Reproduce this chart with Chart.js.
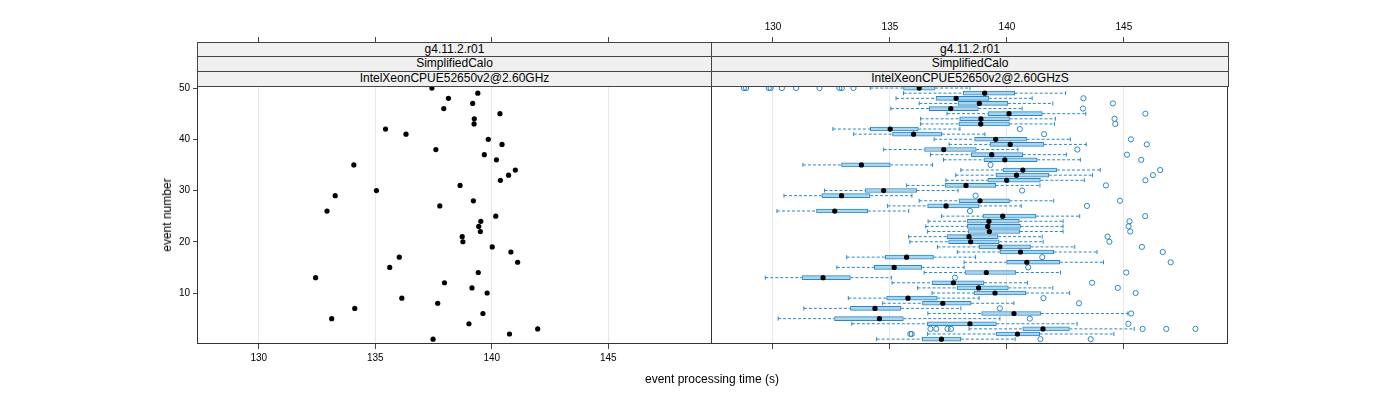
<!DOCTYPE html>
<html>
<head>
<meta charset="utf-8">
<script src="https://cdn.jsdelivr.net/npm/chart.js@4.4.1/dist/chart.umd.min.js"></script>
<style>
  body { margin: 0; background: #fff; }
  #wrap { position: relative; width: 1400px; height: 400px; font-family: 'Liberation Sans', Arial, sans-serif; color: #000; }
  canvas { position: absolute; top: 0; }
  .row { position: absolute; box-sizing: border-box; border: 1px solid #444; background: #f0f0f0;
         text-align: center; font-size: 12px; line-height: 13px; white-space: nowrap; }
  .title { position: absolute; font-size: 12px; white-space: nowrap; }
</style>
</head>
<body>
<div id="wrap">
  <canvas id="leftChart" width="562" height="400" style="left:150px;width:562px;height:400px"></canvas>
  <canvas id="rightChart" width="690" height="400" style="left:710px;width:690px;height:400px"></canvas>
  <div id="strips"></div>
  <div class="title" style="left:712px;top:372px;transform:translateX(-50%)">event processing time (s)</div>
  <div class="title" style="left:167px;top:215px;transform:translate(-50%,-50%) rotate(-90deg)">event number</div>
</div>
<script>
// valeurs
const EVENT = [1, 2, 3, 4, 5, 6, 7, 8, 9, 10, 11, 12, 13, 14, 15, 16, 17, 18, 19, 20,
  21, 22, 23, 24, 25, 26, 27, 28, 29, 30, 31, 32, 33, 34, 35, 36, 37, 38, 39, 40,
  41, 42, 43, 44, 45, 46, 47, 48, 49, 50];
const X_TICKS = [130, 135, 140, 145];
const Y_TICKS = [10, 20, 30, 40, 50];
const X_RANGE = [127.35, 149.45];
const Y_RANGE = [0.05, 50.4];

const STRIP_LEFT = ['g4.11.2.r01', 'SimplifiedCalo', 'IntelXeonCPUE52650v2@2.60GHz'];
const STRIP_RIGHT = ['g4.11.2.r01', 'SimplifiedCalo', 'IntelXeonCPUE52650v2@2.60GHzS'];

// panneau gauche : un temps par événement
const SCATTER_TIME = [137.48, 140.76, 141.97, 139.02, 133.13, 139.62, 134.12, 137.68, 136.14, 139.80,
  139.15, 137.97, 132.44, 139.42, 135.62, 141.11, 136.03, 140.82, 140.02, 138.76,
  138.73, 139.51, 139.44, 139.53, 140.17, 132.93, 137.77, 139.21, 133.28, 135.05,
  138.64, 140.37, 140.72, 141.01, 134.08, 140.20, 139.68, 137.60, 140.44, 139.85,
  136.32, 135.44, 139.24, 139.25, 140.35, 137.94, 139.18, 138.14, 139.40, 137.43];

// panneau droit : boîtes à moustaches
const WHISKER_LO = [134.43, 136.61, 138.38, 133.37, 130.22, 136.62, 131.32, 134.69, 133.22, 136.80,
  136.18, 135.09, 129.67, 136.46, 132.73, 138.17, 133.15, 137.88, 137.03, 135.85,
  135.80, 136.60, 136.53, 136.63, 137.20, 130.17, 134.90, 136.25, 130.47, 132.20,
  135.71, 137.39, 137.81, 138.03, 131.28, 137.29, 136.73, 134.73, 137.53, 136.89,
  133.45, 132.56, 136.31, 136.31, 137.44, 135.04, 136.25, 135.26, 135.58, 134.16];
const BOX_Q1 = [136.38, 139.55, 140.68, 136.60, 132.63, 138.92, 133.31, 136.39, 134.86, 138.59,
  137.88, 136.80, 131.24, 138.21, 134.33, 139.99, 134.80, 139.70, 138.81, 137.51,
  137.44, 138.34, 138.31, 138.31, 138.98, 131.86, 136.61, 137.95, 132.09, 133.95,
  137.37, 139.18, 139.53, 139.83, 132.93, 139.02, 138.48, 136.48, 139.28, 138.62,
  135.11, 134.16, 137.95, 137.98, 139.19, 136.68, 137.91, 136.97, 138.13, 135.58];
const BOX_MEDIAN = [137.20, 140.45, 141.54, 138.42, 134.55, 140.30, 134.36, 137.26, 135.77, 139.49,
  138.79, 137.71, 132.14, 139.12, 135.18, 140.85, 135.71, 140.58, 139.70, 138.45,
  138.38, 139.25, 139.18, 139.23, 139.82, 132.64, 137.40, 138.85, 132.93, 134.73,
  138.25, 139.99, 140.41, 140.68, 133.78, 139.91, 139.35, 137.30, 140.14, 139.52,
  136.01, 135.01, 138.88, 138.89, 140.09, 137.60, 138.82, 137.83, 139.05, 136.25];
const BOX_Q3 = [138.03, 141.40, 142.67, 139.55, 135.57, 141.45, 135.47, 138.47, 137.02, 140.81,
  140.06, 139.02, 133.31, 140.38, 136.36, 142.26, 136.86, 142.00, 141.01, 139.67,
  139.62, 140.55, 140.58, 140.53, 141.24, 134.05, 138.81, 140.11, 134.15, 136.14,
  139.52, 141.43, 141.79, 142.14, 135.01, 141.29, 140.68, 138.69, 141.58, 140.84,
  137.22, 136.21, 140.11, 140.11, 141.51, 138.78, 140.04, 139.23, 140.33, 136.93];
const WHISKER_HI = [140.35, 144.57, 145.44, 143.00, 139.70, 145.17, 138.03, 140.30, 138.81, 142.68,
  141.96, 140.88, 135.06, 142.29, 138.17, 144.13, 138.66, 143.85, 142.90, 141.55,
  141.51, 142.40, 142.40, 142.40, 143.11, 135.80, 140.61, 142.00, 135.94, 137.91,
  141.41, 143.31, 143.66, 143.99, 136.82, 143.14, 142.54, 140.47, 143.39, 142.71,
  139.06, 137.99, 142.03, 142.07, 143.37, 140.65, 141.96, 141.08, 142.51, 138.42];
const OUTLIERS = [
  [141.43, 143.58], [135.87, 135.93], [136.73, 136.98, 137.46, 137.61, 145.80, 146.81, 148.06],
  [145.19], [140.98], [145.31], [139.70], [143.08], [141.56], [145.50],
  [144.74], [143.64], [137.78], [145.10], [140.91], [147.00], [141.51], [146.66], [145.77], [144.38],
  [144.30], [145.27], [145.20], [145.24], [145.91], [138.42], [143.42], [144.83], [138.66], [140.65],
  [144.23], [145.92], [146.24], [146.55], [139.30], [145.74], [145.13], [143.01], [145.98], [145.30],
  [141.59], [140.55], [144.63], [144.60], [145.92], [143.25], [144.53], [143.27], [],
  [128.76, 128.85, 129.82, 129.90, 130.38, 130.99, 131.99, 132.84, 132.94, 133.44]
];

const INK = '#444';
const BLUE = '#2b87c5';
const BOX_FILL = '#a9d5ef';
const TICK_FONT = { family: "'Liberation Sans', Arial, sans-serif", size: 10 };

// bandeaux (strips) au-dessus de chaque panneau
function addStrip(labels, left, width) {
  const tops = [42, 56, 71];
  const heights = [15, 16, 16];
  labels.forEach((txt, i) => {
    const d = document.createElement('div');
    d.className = 'row';
    d.style.left = left + 'px';
    d.style.width = width + 'px';
    d.style.top = tops[i] + 'px';
    d.style.height = heights[i] + 'px';
    d.textContent = txt;
    document.getElementById('strips').appendChild(d);
  });
}
addStrip(STRIP_LEFT, 197, 515);
addStrip(STRIP_RIGHT, 711, 518);

function ticksAt(values) {
  return scale => { scale.ticks = values.map(v => ({ value: v })); };
}

function panelScales(bottomLabels, topLabels, showY) {
  return {
    x: {
      type: 'linear', position: 'bottom', min: X_RANGE[0], max: X_RANGE[1], offset: false,
      afterBuildTicks: ticksAt(X_TICKS),
      afterFit: s => { s.height = 56; },
      border: { display: false },
      grid: { color: '#e8e8e8', tickColor: INK, tickLength: 5, offset: false },
      ticks: { display: bottomLabels, color: '#000', font: TICK_FONT, padding: 3, maxRotation: 0 }
    },
    xStrip: {
      type: 'linear', position: 'top', weight: 0, min: X_RANGE[0], max: X_RANGE[1], offset: false,
      afterFit: s => { s.height = 44; },
      border: { display: false },
      grid: { display: false },
      ticks: { display: false }
    },
    xTop: {
      type: 'linear', position: 'top', weight: 1, min: X_RANGE[0], max: X_RANGE[1], offset: false,
      afterBuildTicks: ticksAt(X_TICKS),
      afterFit: s => { s.height = 42; },
      border: { display: false },
      grid: { drawOnChartArea: false, tickColor: INK, tickLength: 5, offset: false },
      ticks: { display: topLabels, color: '#000', font: TICK_FONT, padding: 4, maxRotation: 0 }
    },
    y: {
      type: 'linear', display: showY, min: Y_RANGE[0], max: Y_RANGE[1], offset: false,
      afterBuildTicks: ticksAt(Y_TICKS),
      afterFit: s => { if (showY) s.width = 47; },
      border: { display: false },
      grid: { drawOnChartArea: false, tickColor: INK, tickLength: 4, offset: false },
      ticks: { color: '#000', font: TICK_FONT, padding: 3 }
    }
  };
}

// cadre du panneau
const panelBox = {
  id: 'panelBox',
  afterDraw(chart) {
    const a = chart.chartArea;
    const ctx = chart.ctx;
    ctx.save();
    ctx.strokeStyle = '#333';
    ctx.lineWidth = 1;
    ctx.strokeRect(a.left + 0.5, a.top + 0.5, a.right - a.left - 1, a.bottom - a.top - 1);
    ctx.restore();
  }
};

const common = {
  responsive: false,
  animation: false,
  devicePixelRatio: 1,
  plugins: { legend: { display: false }, tooltip: { enabled: false } }
};

// panneau gauche
new Chart(document.getElementById('leftChart'), {
  type: 'scatter',
  data: {
    datasets: [{
      data: EVENT.map((n, i) => ({ x: SCATTER_TIME[i], y: n })),
      pointRadius: 2.6,
      pointBackgroundColor: '#000',
      pointBorderWidth: 0
    }]
  },
  options: Object.assign({}, common, {
    layout: { autoPadding: false, padding: { left: 0, right: 0, top: 0, bottom: 0 } },
    scales: panelScales(true, false, true)
  }),
  plugins: [panelBox]
});

// panneau droit
const whiskerPts = [];
const capPts = [];
EVENT.forEach((n, i) => {
  whiskerPts.push({ x: WHISKER_LO[i], y: n }, { x: BOX_Q1[i], y: n }, { x: null, y: null });
  whiskerPts.push({ x: BOX_Q3[i], y: n }, { x: WHISKER_HI[i], y: n }, { x: null, y: null });
  capPts.push({ x: WHISKER_LO[i], y: n }, { x: WHISKER_HI[i], y: n });
});
const outlierPts = [];
EVENT.forEach((n, i) => {
  OUTLIERS[i].forEach(v => outlierPts.push({ x: v, y: n }));
});

new Chart(document.getElementById('rightChart'), {
  type: 'scatter',
  data: {
    datasets: [
      {
        label: 'median',
        order: 0,
        data: EVENT.map((n, i) => ({ x: BOX_MEDIAN[i], y: n })),
        pointRadius: 2.6,
        pointBackgroundColor: '#000',
        pointBorderWidth: 0
      },
      {
        label: 'outliers',
        order: 1,
        data: outlierPts,
        pointRadius: 2.6,
        pointBackgroundColor: 'rgba(255,255,255,0)',
        pointBorderColor: BLUE,
        pointBorderWidth: 1
      },
      {
        label: 'box',
        type: 'bar',
        order: 2,
        indexAxis: 'y',
        data: EVENT.map((n, i) => ({ x: [BOX_Q1[i], BOX_Q3[i]], y: n })),
        backgroundColor: BOX_FILL,
        borderColor: BLUE,
        borderWidth: 1,
        borderSkipped: false,
        barThickness: 4
      },
      {
        label: 'caps',
        order: 3,
        data: capPts,
        pointStyle: 'line',
        rotation: 90,
        pointRadius: 2,
        pointBorderColor: BLUE,
        pointBorderWidth: 1
      },
      {
        label: 'whiskers',
        order: 4,
        data: whiskerPts,
        showLine: true,
        spanGaps: false,
        pointRadius: 0,
        borderColor: BLUE,
        borderWidth: 1,
        borderDash: [3, 2]
      }
    ]
  },
  options: Object.assign({}, common, {
    layout: { autoPadding: false, padding: { left: 1, right: 172, top: 0, bottom: 0 } },
    scales: panelScales(false, true, false)
  }),
  plugins: [panelBox]
});
</script>
</body>
</html>
